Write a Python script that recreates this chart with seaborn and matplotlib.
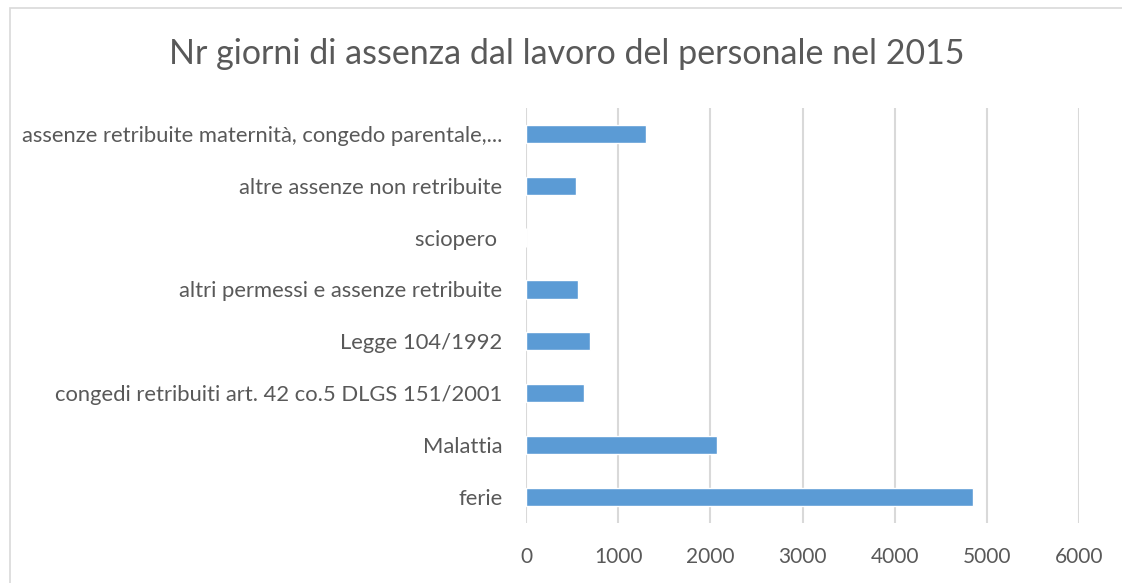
import matplotlib
matplotlib.use("Agg")
import matplotlib.pyplot as plt
import seaborn as sns
import pandas as pd
from matplotlib.patches import Rectangle

# categories top to bottom, as in the chart
categories = [
    "assenze retribuite maternità, congedo parentale,...",
    "altre assenze non retribuite",
    "sciopero ",
    "altri permessi e assenze retribuite",
    "Legge 104/1992",
    "congedi retribuiti art. 42 co.5 DLGS 151/2001",
    "Malattia",
    "ferie",
]
giorni = [1305, 545, 0, 558, 697, 628, 2070, 4848]
x_ticks = [0, 1000, 2000, 3000, 4000, 5000, 6000]

df = pd.DataFrame({"categoria": categories, "giorni": giorni})

sns.set_style("white")
plt.rcParams["font.family"] = ["Lato", "DejaVu Sans"]
text_col = "#595959"

fig = plt.figure(figsize=(11.22, 5.83), dpi=100)
ax = fig.add_axes([0.469, 0.103, 0.4927, 0.712])

sns.barplot(data=df, x="giorni", y="categoria", orient="h", color="#5B9BD5",
            width=0.35, saturation=1, ax=ax, order=categories)

ax.set_xlim(0, 6000)
ax.set_ylim(len(categories) - 0.5, -0.5)
ax.set_xticks(x_ticks)
ax.set_xticklabels([str(t) for t in x_ticks])
ax.xaxis.grid(True, color="#D9D9D9", linewidth=1.5)
ax.set_axisbelow(True)
for s in ax.spines.values():
    s.set_visible(False)
ax.tick_params(axis="x", length=0, pad=17, labelsize=15, labelcolor=text_col)
ax.tick_params(axis="y", length=0, pad=17, labelsize=15.8, labelcolor=text_col)
ax.set_xlabel("")
ax.set_ylabel("")

fig.text(0.505, 0.907, "Nr giorni di assenza dal lavoro del personale nel 2015",
         ha="center", va="center", fontsize=24.5, color=text_col)

# light frame around the chart area
fig.patches.append(Rectangle((10 / 1122, -0.01), 1.1, 1 - 8 / 583 + 0.01,
                             transform=fig.transFigure, fill=False,
                             edgecolor="#D9D9D9", linewidth=1.2))

fig.savefig("out.png", dpi=100)
